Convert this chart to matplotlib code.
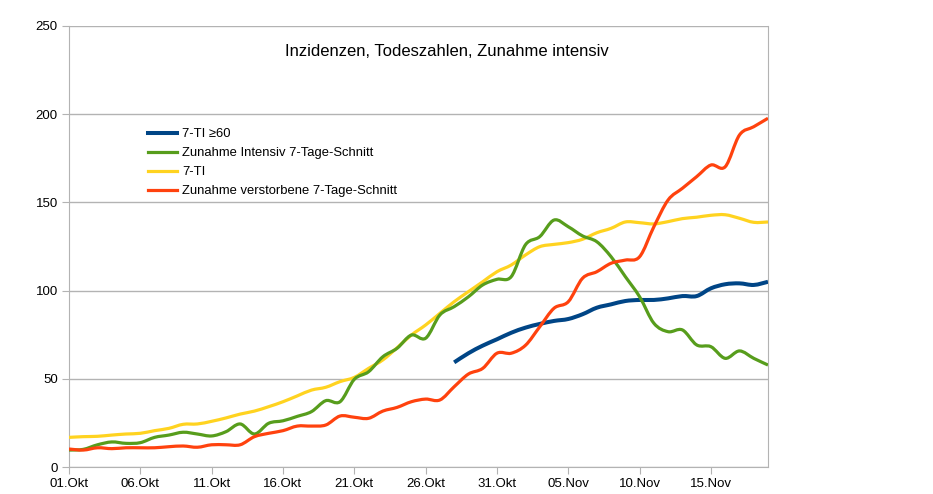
################################################################################
# Inzidenzen, Todeszahlen, Zunahme intensiv (01.Okt - 19.Nov)
################################################################################
import numpy as np
import matplotlib.pyplot as plt
from matplotlib.path import Path
from matplotlib.patches import PathPatch
from matplotlib.lines import Line2D

plt.rcParams['font.family'] = ['Liberation Sans', 'DejaVu Sans']

################################################################################
# Daten (Tag 0 = 01.Okt)
tage = np.arange(50)

ti = [16.8, 17.2, 17.4, 18.1, 18.7, 19.1, 20.6, 21.9, 24.2, 24.4,
      25.9, 27.8, 30.0, 31.7, 34.2, 37.0, 40.3, 43.6, 45.2, 48.4,
      50.8, 55.9, 60.7, 67.6, 74.8, 80.5, 87.1, 93.7, 99.4, 105.0,
      110.7, 114.5, 120.2, 124.9, 126.2, 127.2, 129.1, 132.8, 135.3, 138.9,
      138.5, 137.8, 139.1, 140.8, 141.6, 142.7, 143.0, 141.0, 138.7, 138.9]

intensiv = [9.6, 10.0, 12.6, 14.2, 13.4, 13.8, 16.8, 18.1, 19.7, 18.7,
            17.6, 20.0, 24.4, 18.7, 24.8, 26.2, 28.7, 31.4, 37.6, 37.0,
            49.7, 54.0, 62.5, 67.3, 74.8, 73.0, 86.2, 90.9, 96.5, 103.2,
            106.4, 107.9, 126.0, 130.6, 140.0, 136.2, 131.0, 127.7, 119.2, 107.9,
            96.5, 81.5, 76.7, 77.7, 69.2, 68.2, 61.6, 65.8, 61.6, 57.8]

verstorbene = [10.2, 9.6, 10.9, 10.4, 10.9, 10.9, 10.9, 11.5, 11.9, 11.2,
               12.6, 12.6, 12.6, 17.2, 19.1, 20.6, 23.2, 23.2, 23.8, 28.9,
               28.2, 27.6, 31.7, 33.8, 37.0, 38.5, 38.0, 45.5, 52.7, 55.9,
               64.5, 64.5, 69.0, 79.5, 90.0, 93.7, 107.0, 110.7, 115.5, 117.3,
               119.2, 136.2, 151.4, 158.0, 164.6, 171.2, 170.2, 188.2, 192.9, 197.7]

# 7-TI >=60 erst ab 28.Okt
tage_60 = np.arange(27, 50)
ti_60 = [59.3, 64.5, 68.8, 72.4, 76.1, 79.0, 81.1, 82.8, 83.9, 86.6,
         90.3, 92.2, 94.1, 94.7, 94.7, 95.6, 96.9, 96.9, 101.3, 103.6,
         104.1, 103.2, 105.0]

tick_tage = [0, 5, 10, 15, 20, 25, 30, 35, 40, 45]
tick_labels = ['01.Okt', '06.Okt', '11.Okt', '16.Okt', '21.Okt', '26.Okt',
               '31.Okt', '05.Nov', '10.Nov', '15.Nov']
################################################################################

# Geglättete Linie (kubische Bezier-Kurven durch die Datenpunkte, wie im Original)
def glatte_linie(ax, x, y, farbe, breite, z):
  p = np.column_stack([x, y]).astype(float)
  verts = [p[0]]
  codes = [Path.MOVETO]
  for i in range(len(p) - 1):
    p0 = p[i - 1] if i > 0 else p[i]
    p1 = p[i]
    p2 = p[i + 1]
    p3 = p[i + 2] if i + 2 < len(p) else p[i + 1]
    verts += [p1 + (p2 - p0) / 6, p2 - (p3 - p1) / 6, p2]
    codes += [Path.CURVE4] * 3
  patch = PathPatch(Path(verts, codes), facecolor='none', edgecolor=farbe,
                    lw=breite, zorder=z, joinstyle='round', capstyle='butt')
  ax.add_patch(patch)
  return Line2D([], [], color=farbe, lw=breite)

fig = plt.figure(figsize=(9.33, 4.94), dpi=100)
ax = fig.add_axes([69/933, 1 - 467/494, (768 - 69)/933, (467 - 26)/494])

grau = '#b3b3b3'

# Linien
h_ti = glatte_linie(ax, tage, ti, '#ffd320', 2.3, 3)
h_60 = glatte_linie(ax, tage_60, ti_60, '#004586', 2.9, 4)
h_int = glatte_linie(ax, tage, intensiv, '#579d1c', 2.3, 5)
h_tot = glatte_linie(ax, tage, verstorbene, '#ff420e', 2.3, 6)

# Achsen
ax.set_xlim(0, 49)
ax.set_ylim(0, 250)
ax.set_yticks(range(0, 251, 50))
ax.set_xticks(tick_tage)
ax.set_xticklabels(tick_labels)
ax.grid(axis='y', color=grau, lw=1)
ax.set_axisbelow(True)
for s in ['left', 'bottom', 'right']:
  ax.spines[s].set_color(grau)
ax.spines['top'].set_visible(False)
ax.tick_params(axis='both', colors=grau, labelcolor='black', labelsize=9.5, length=5, direction='out')
ax.tick_params(axis='x', pad=3)
ax.tick_params(axis='y', pad=3)

# Titel
fig.text(447/933, 1 - 52/494, 'Inzidenzen, Todeszahlen, Zunahme intensiv',
         ha='center', va='center', fontsize=12)

# Legende
fig.legend([h_60, h_int, h_ti, h_tot],
           ['7-TI ≥60', 'Zunahme Intensiv 7-Tage-Schnitt', '7-TI', 'Zunahme verstorbene 7-Tage-Schnitt'],
           loc='upper left', bbox_to_anchor=(143/933, 1 - 123/494), frameon=False,
           fontsize=9.4, handlelength=2.2, handletextpad=0.4, labelspacing=0.52,
           borderaxespad=0)

fig.savefig('out.png', dpi=100)
